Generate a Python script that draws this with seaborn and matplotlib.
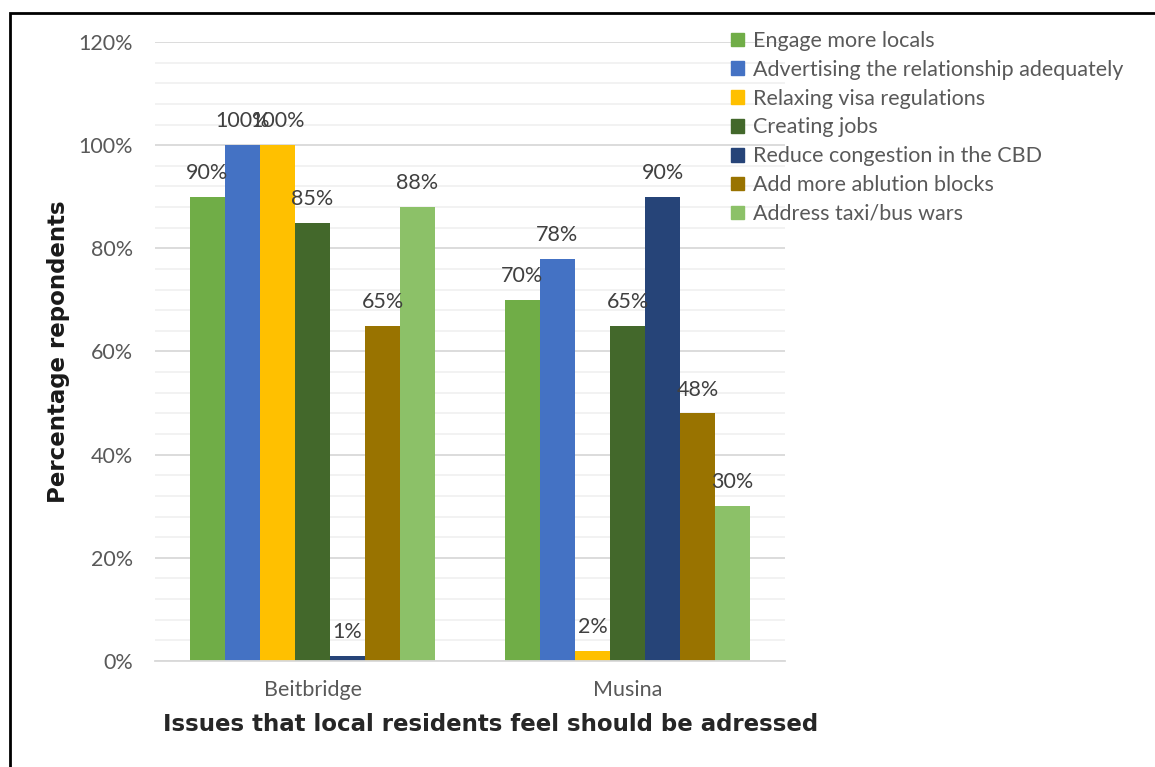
import matplotlib
matplotlib.use("Agg")
import matplotlib.pyplot as plt
import matplotlib.patches as mpatches
from matplotlib.ticker import MultipleLocator, PercentFormatter
import seaborn as sns
import pandas as pd

# --- data ---
sites = ["Beitbridge", "Musina"]
issues = [
    "Engage more locals",
    "Advertising the relationship adequately",
    "Relaxing visa regulations",
    "Creating jobs",
    "Reduce congestion in the CBD",
    "Add more ablution blocks",
    "Address taxi/bus wars",
]
beitbridge = [0.90, 1.00, 1.00, 0.85, 0.01, 0.65, 0.88]
musina = [0.70, 0.78, 0.02, 0.65, 0.90, 0.48, 0.30]
colors = ["#70AD47", "#4472C4", "#FFC000", "#43682B", "#264478", "#997300", "#8CC168"]

rows = []
for site, vals in zip(sites, [beitbridge, musina]):
    for issue, v in zip(issues, vals):
        rows.append({"site": site, "issue": issue, "value": v})
df = pd.DataFrame(rows)

sns.set_style("white")
plt.rcParams["font.family"] = ["Lato", "DejaVu Sans"]

fig = plt.figure(figsize=(11.55, 7.67), dpi=100)
ax = fig.add_axes([155 / 1155, 1 - 661 / 767, 630 / 1155, 619 / 767])

sns.barplot(data=df, x="site", y="value", hue="issue", hue_order=issues,
            palette=colors, saturation=1, width=0.778, gap=0, ax=ax,
            errorbar=None, legend=False, linewidth=0)

# value labels (the two 100% labels overlap in the original too)
for cont in ax.containers:
    ax.bar_label(cont, labels=[f"{v * 100:.0f}%" for v in cont.datavalues],
                 padding=10, fontsize=15.5, color="#404040")

ax.set_xlim(-0.5, 1.5)
ax.set_ylim(0, 1.2)
ax.yaxis.set_major_locator(MultipleLocator(0.2))
ax.yaxis.set_minor_locator(MultipleLocator(0.04))
ax.yaxis.set_major_formatter(PercentFormatter(1.0, decimals=0))
ax.grid(axis="y", which="major", color="#d9d9d9", lw=1.3)
ax.grid(axis="y", which="minor", color="#f0f0f0", lw=1.2)
ax.set_axisbelow(True)
ax.tick_params(axis="both", which="both", length=0, labelsize=15.5, colors="#595959")
ax.tick_params(axis="y", pad=16)
ax.tick_params(axis="x", pad=14)
for s in ["top", "right", "left"]:
    ax.spines[s].set_visible(False)
ax.spines["bottom"].set_color("#d9d9d9")
ax.spines["bottom"].set_linewidth(1.3)

ax.set_ylabel("Percentage repondents", fontsize=16.5, fontweight="bold",
              color="#1a1a1a", family=["DejaVu Sans"])
ax.yaxis.set_label_coords(-0.135, (661 - 352) / 619)
ax.set_xlabel("Issues that local residents feel should be adressed", fontsize=16.5,
              fontweight="bold", color="#262626", family=["DejaVu Sans"], va="center")
ax.xaxis.set_label_coords(0.532, -0.103)

handles = [mpatches.Patch(color=c, label=l) for c, l in zip(colors, issues)]
leg = fig.legend(handles=handles, loc="upper left", bbox_to_anchor=(731 / 1155, 1 - 31 / 767),
                 frameon=False, fontsize=15.5, handlelength=0.6, handleheight=0.6,
                 handletextpad=0.4, labelspacing=0.41, borderaxespad=0, borderpad=0)
for t in leg.get_texts():
    t.set_color("#595959")

# black frame like the pasted chart border
fig.add_artist(mpatches.Rectangle((10 / 1155, -0.1), 1.2, 1 - 13 / 767 + 0.1,
                                  transform=fig.transFigure, fill=False,
                                  edgecolor="black", lw=2))

fig.savefig("out.png", dpi=100)
